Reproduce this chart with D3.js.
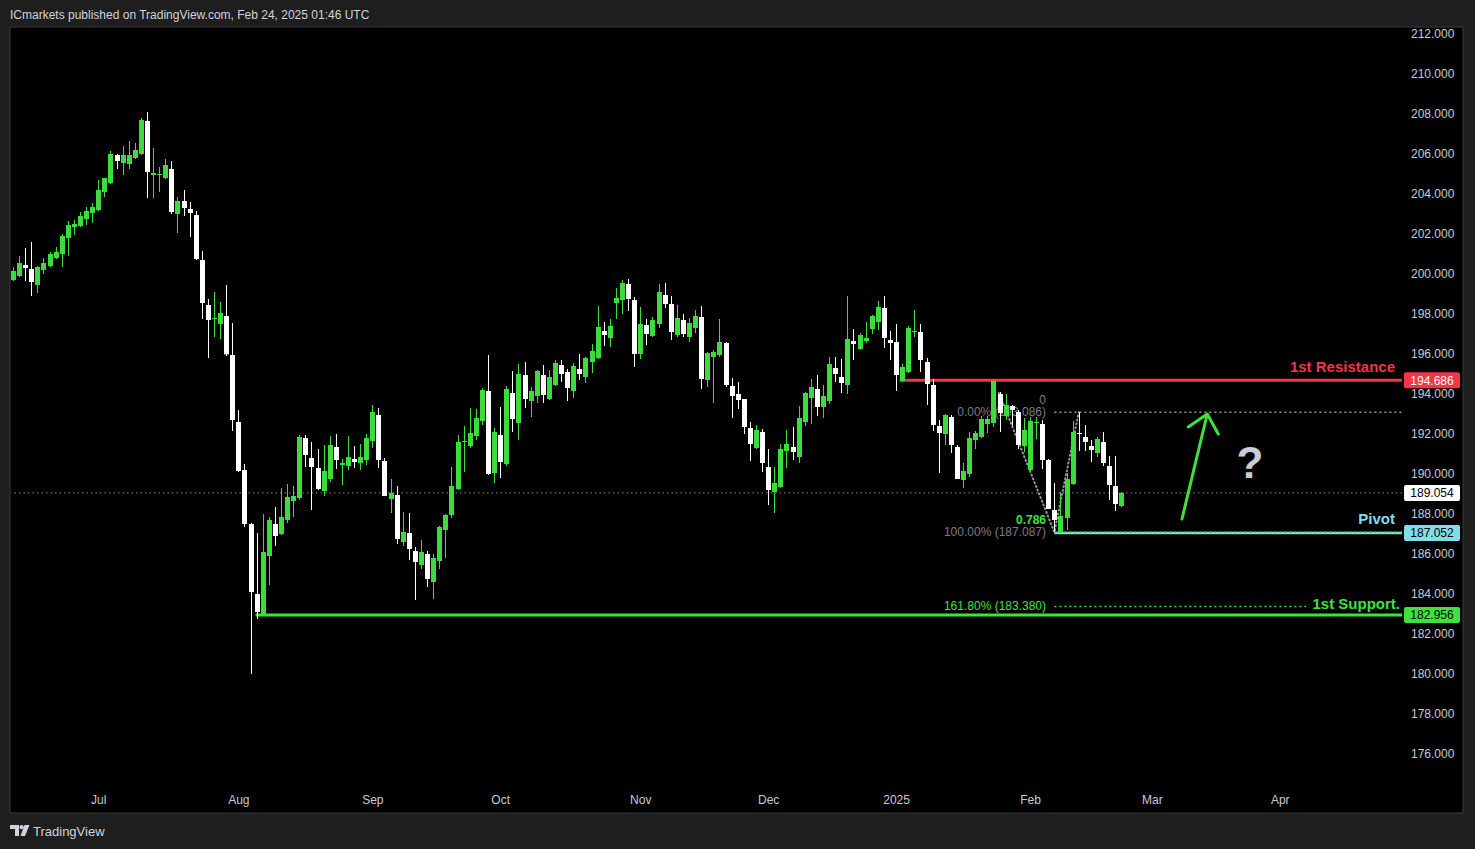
<!DOCTYPE html>
<html><head><meta charset="utf-8">
<script src="https://cdn.jsdelivr.net/npm/d3@7"></script>
<style>
html,body{margin:0;padding:0;background:#1e1e1e;}
svg{display:block;}
text{font-family:"Liberation Sans",Arial,sans-serif;}
</style></head><body>
<svg id="c" width="1475" height="849"></svg>
<script>
// ---- DATA (GBPJPY daily, Jun 11 2024 -> Feb 24 2025) ----
const opens = [199.7,199.9,200.45,200.25,199.45,200.2,200.4,200.8,201.0,201.8,202.35,202.4,202.75,203.05,203.2,204.1,204.55,205.95,205.55,205.5,205.8,206.0,207.65,204.95,204.95,204.8,205.25,203.0,203.65,203.25,
202.95,200.7,198.45,197.75,197.5,197.9,195.95,192.6,190.2,187.5,184.0,182.95,185.9,187.5,187.0,187.7,188.65,188.8,191.8,190.8,190.3,189.15,189.75,191.35,190.45,190.4,190.75,190.55,190.7,191.65,
192.95,190.65,188.75,188.95,186.6,187.05,186.15,185.45,186.0,184.6,185.65,187.2,187.95,189.25,191.6,191.4,191.9,192.65,194.15,190.05,191.95,190.5,194.05,192.55,194.95,193.65,193.9,194.95,193.75,194.45,
195.45,195.1,194.15,195.25,194.85,195.6,195.8,197.15,196.8,198.55,198.7,199.5,198.7,196.0,197.45,196.9,197.5,198.95,198.5,196.95,197.7,196.85,197.3,197.85,194.7,195.85,195.95,196.55,194.4,194.0,
193.75,192.3,191.3,192.1,190.35,189.1,189.35,191.15,191.35,190.85,192.6,193.8,194.25,193.35,193.65,195.3,194.85,194.45,196.65,196.25,196.65,197.25,197.6,198.3,196.7,196.6,194.65,195.1,197.1,197.1,
195.6,194.45,192.4,192.0,192.85,191.35,189.7,190.0,191.7,191.85,192.5,192.55,194.0,192.9,193.4,193.1,191.4,190.2,192.55,192.5,190.7,188.2,187.09,187.8,189.5,192.05,191.85,191.4,191.05,191.6,
190.4,189.4,188.4];
const highs = [200.35,200.9,201.3,201.6,200.4,200.8,201.1,201.35,202.0,202.65,202.7,203.1,203.35,203.55,204.7,204.8,206.15,206.0,206.4,206.65,206.55,207.8,208.1,206.3,205.35,205.75,205.65,203.85,204.2,203.6,
203.15,201.15,198.75,199.1,198.6,199.45,197.55,193.2,190.5,187.55,187.05,188.0,187.85,188.35,189.3,189.5,189.4,191.95,191.95,191.6,191.25,191.45,191.9,192.0,190.75,191.9,191.4,191.5,192.0,193.45,
193.3,190.8,189.75,189.4,188.1,188.05,186.35,186.7,186.15,186.0,187.4,188.0,190.35,191.95,192.4,193.3,193.25,194.3,195.95,192.3,193.35,194.4,195.15,195.5,195.6,194.35,195.2,195.45,195.2,195.7,
195.7,195.25,195.55,196.0,195.85,196.5,198.4,197.6,197.75,199.3,199.7,199.75,198.85,198.35,197.75,197.85,199.5,199.55,198.9,198.45,198.0,197.8,198.2,198.4,196.1,196.2,197.75,196.6,194.8,194.6,
193.75,192.6,192.45,192.25,191.25,190.35,191.5,192.2,192.35,193.4,194.1,194.75,194.95,194.45,195.85,195.85,195.75,198.9,197.25,197.05,197.6,197.95,198.65,198.9,197.15,197.5,195.5,197.4,198.2,197.5,
195.8,194.75,192.7,193.0,192.95,191.45,190.55,192.1,192.15,192.9,192.9,194.7,194.1,194.0,193.45,193.2,192.8,192.85,192.85,192.7,190.75,189.55,189.1,190.05,192.65,193.086,192.45,191.7,191.85,192.1,
190.9,190.9,189.1];
const lows = [199.65,199.85,199.65,198.9,199.05,200.0,200.35,200.75,200.35,200.9,201.95,202.35,202.45,202.55,203.15,203.85,204.5,205.25,204.95,205.25,205.75,205.95,203.8,203.8,204.1,204.75,203.0,202.05,202.9,201.85,
200.7,197.75,195.8,196.85,196.75,195.9,192.15,190.1,187.35,180.0,182.75,182.9,184.45,186.4,186.95,187.55,187.85,188.7,190.35,188.2,189.2,188.9,189.6,190.25,189.45,190.2,190.3,190.2,190.45,191.3,
190.3,188.9,188.05,186.5,186.4,185.7,183.7,185.25,184.35,183.75,185.25,185.8,187.8,189.2,190.1,191.3,191.7,192.45,189.95,189.55,189.8,190.4,192.1,191.7,193.3,192.85,193.55,193.55,193.7,194.4,
194.6,193.65,193.8,194.7,194.55,195.05,195.75,196.4,196.35,197.75,198.0,198.15,195.35,195.75,196.45,196.85,197.3,198.3,196.7,196.85,196.85,196.6,197.05,194.25,194.35,193.55,195.85,194.35,192.8,193.25,
192.0,190.65,191.25,190.1,188.45,188.05,189.3,190.3,190.7,190.55,192.4,192.5,192.9,192.8,193.5,194.6,194.05,194.0,195.7,196.2,196.55,197.0,197.2,196.3,195.7,194.15,194.6,195.05,196.85,195.1,
193.45,192.15,190.05,191.45,191.05,189.75,189.3,189.85,191.25,191.8,192.05,192.35,192.1,192.7,192.4,191.25,191.1,190.1,191.75,190.25,188.25,187.1,187.087,187.2,189.45,191.15,191.15,190.6,190.85,190.4,
188.7,188.15,188.35];
const closes = [200.15,200.55,200.3,199.6,200.35,200.55,201.0,201.1,201.9,202.45,202.5,202.9,203.15,203.35,204.2,204.8,206.0,205.65,205.95,205.95,206.2,207.7,205.1,205.05,205.0,205.45,203.1,203.65,203.3,203.05,
200.75,198.55,197.7,197.8,198.05,195.98,192.7,190.15,187.5,184.1,183.1,186.1,187.7,186.9,187.85,188.85,188.9,191.85,190.95,190.35,189.25,190.15,191.45,190.7,190.55,190.85,190.6,190.85,191.8,193.1,
190.7,188.9,189.05,186.75,187.1,186.25,185.6,186.1,184.75,185.8,187.35,187.95,189.4,191.6,191.65,192.05,192.8,194.2,190.0,192.1,190.6,194.25,192.75,195.0,193.75,194.15,195.15,193.95,194.85,195.55,
195.0,194.3,195.4,195.0,195.8,196.15,197.35,196.95,197.4,198.8,199.55,198.75,196.0,197.5,197.0,197.7,199.1,198.5,197.1,197.8,197.0,197.55,197.9,194.75,196.05,196.1,196.6,194.45,193.9,193.7,
192.35,191.5,192.2,190.55,189.2,189.55,191.25,191.5,191.1,192.8,194.05,194.35,193.35,193.9,195.5,195.0,194.55,196.75,196.5,196.95,196.8,197.9,198.35,196.8,196.55,194.95,195.35,197.3,197.15,195.7,
194.5,192.45,192.05,192.95,191.45,189.75,190.15,191.8,192.05,192.75,192.75,194.65,193.05,193.45,193.2,191.45,192.2,192.65,192.6,190.7,188.25,187.7,187.9,189.75,192.1,192.0,191.6,191.2,191.75,190.55,
189.45,188.5,189.054];

const monthLabels = ["Jul","Aug","Sep","Oct","Nov","Dec","2025","Feb","Mar","Apr"];
const priceTicks = d3.range(176, 212.001, 2);
const startDate = "2024-06-11";
const holidays = ["2024-12-25","2025-01-01"];

// levels
const resistance = 194.686, pivot = 187.052, support = 182.956, lastPrice = 189.054;
const fib0 = 193.086, fib100 = 187.087, fib1618 = 183.380;
// trend points (bar index, price)
const trendPts = [[161.9,194.05],[171,187.087],[175,193.086]];
const arrowPts = [[191.95,187.75],[196.1,193.0]];

// ---- build trading-day calendar ----
const dates = [];
{
  let d = new Date(startDate+"T00:00:00Z");
  while (dates.length < 240) {
    const wd = d.getUTCDay();
    const iso = d.toISOString().slice(0,10);
    if (wd !== 0 && wd !== 6 && !holidays.includes(iso)) dates.push(new Date(d));
    d.setUTCDate(d.getUTCDate()+1);
  }
}
const monthStarts = [];
for (let i=1;i<dates.length;i++){
  if (dates[i].getUTCMonth() !== dates[i-1].getUTCMonth()) monthStarts.push(i);
}
const tickIdx = monthStarts.slice(0, monthLabels.length);

const svg = d3.select("#c");
const W=1475,H=849;
const paneL=10, paneT=27, paneR=1463, paneB=813, plotR=1402, plotB=787;

svg.append("rect").attr("x",0).attr("y",0).attr("width",W).attr("height",H).attr("fill","#1e1e1e");
svg.append("rect").attr("x",paneL).attr("y",paneT).attr("width",paneR-paneL).attr("height",paneB-paneT)
  .attr("fill","#000").attr("stroke","#3a3a3a").attr("stroke-width",1);

const x = d3.scaleLinear().domain([0,1]).range([13, 13+6.09]);
const y = d3.scaleLinear().domain([176,212]).range([754,34]);

svg.append("defs").append("clipPath").attr("id","plot").append("rect")
  .attr("x",paneL+1).attr("y",paneT+1).attr("width",plotR-paneL-1).attr("height",plotB-paneT-1);
const plot = svg.append("g").attr("clip-path","url(#plot)");

// header/footer
svg.append("text").attr("x",10).attr("y",19).attr("fill","#d1d4dc").attr("font-size",12)
  .text("ICmarkets published on TradingView.com, Feb 24, 2025 01:46 UTC");
const logo = svg.append("g").attr("fill","#d1d4dc");
logo.append("path").attr("d","M10,825 H19 V836 H15 V829 H10 Z");
logo.append("circle").attr("cx",21.6).attr("cy",827.2).attr("r",2.1);
logo.append("path").attr("d","M24.5,825 H29.5 L25,836 H20.5 Z");
svg.append("text").attr("x",33).attr("y",836).attr("fill","#d1d4dc").attr("font-size",13).text("TradingView");

// last price dotted line
plot.append("line").attr("x1",paneL).attr("x2",plotR).attr("y1",y(lastPrice)).attr("y2",y(lastPrice))
  .attr("stroke","#8a8d96").attr("stroke-width",1).attr("stroke-dasharray","1.5,3");

// support / resistance / pivot lines
plot.append("line").attr("x1",x(40)-1).attr("x2",plotR).attr("y1",y(support)).attr("y2",y(support))
  .attr("stroke","#3ee23e").attr("stroke-width",3);
plot.append("line").attr("x1",x(145.6)).attr("x2",plotR).attr("y1",y(resistance)).attr("y2",y(resistance))
  .attr("stroke","#f23645").attr("stroke-width",3);
plot.append("line").attr("x1",x(171)).attr("x2",plotR).attr("y1",y(pivot)).attr("y2",y(pivot))
  .attr("stroke","#80deea").attr("stroke-width",2.5);

// fib lines
plot.append("line").attr("x1",x(171)).attr("x2",plotR).attr("y1",y(fib0)).attr("y2",y(fib0))
  .attr("stroke","#9598a1").attr("stroke-width",1.5).attr("stroke-dasharray","2,3");
plot.append("line").attr("x1",x(171)).attr("x2",plotR).attr("y1",y(fib100)).attr("y2",y(fib100))
  .attr("stroke","#3ee23e").attr("stroke-width",1.5).attr("stroke-dasharray","2,3");
plot.append("line").attr("x1",x(171)).attr("x2",1306).attr("y1",y(fib1618)).attr("y2",y(fib1618))
  .attr("stroke","#3ee23e").attr("stroke-width",1.5).attr("stroke-dasharray","2,3");

// fib labels (behind candles)
const fibTxt = plot.append("g").attr("font-size",12).attr("text-anchor","end");
fibTxt.append("text").attr("x",1046).attr("y",y(fib0)+4).attr("fill","#787b86").text("0.00% (193.086)");
fibTxt.append("text").attr("x",1046).attr("y",y(fib0)-8).attr("fill","#787b86").text("0");
fibTxt.append("text").attr("x",1046).attr("y",y(fib100)+4).attr("fill","#787b86").text("100.00% (187.087)");
fibTxt.append("text").attr("x",1046).attr("y",y(fib100)-8).attr("fill","#3ee23e").attr("font-weight","bold").text("0.786");
fibTxt.append("text").attr("x",1046).attr("y",y(fib1618)+4).attr("fill","#3ee23e").text("161.80% (183.380)");

// trend dotted path
plot.append("path").attr("d", d3.line().x(d=>x(d[0])).y(d=>y(d[1]))(trendPts))
  .attr("fill","none").attr("stroke","#9598a1").attr("stroke-width",2).attr("stroke-dasharray","1,3").attr("stroke-linecap","round");

// candles
const up = "#3ddc3d", down = "#ffffff";
const idx = d3.range(closes.length);
plot.append("g").selectAll("line").data(idx).join("line")
  .attr("x1",i=>Math.round(x(i))+0.5).attr("x2",i=>Math.round(x(i))+0.5)
  .attr("y1",i=>y(highs[i])).attr("y2",i=>y(lows[i]))
  .attr("stroke",i=>closes[i]>=opens[i]?up:down).attr("stroke-width",1);
plot.append("g").selectAll("rect").data(idx).join("rect")
  .attr("x",i=>Math.round(x(i))-2).attr("width",5)
  .attr("y",i=>y(Math.max(opens[i],closes[i])))
  .attr("height",i=>Math.max(1, Math.abs(y(opens[i])-y(closes[i]))))
  .attr("fill",i=>closes[i]>=opens[i]?up:down);

// level text labels
const lbl = plot.append("g").attr("font-size",15).attr("font-weight","bold").attr("text-anchor","end");
lbl.append("text").attr("x",1395).attr("y",y(resistance)-8).attr("fill","#f23645").text("1st Resistance");
lbl.append("text").attr("x",1395).attr("y",y(pivot)-9).attr("fill","#80deea").text("Pivot");
lbl.append("text").attr("x",1400).attr("y",y(fib1618)+3).attr("fill","#3ee23e").text("1st Support.");

// arrow
const ax0=x(arrowPts[0][0]), ay0=y(arrowPts[0][1]), ax1=x(arrowPts[1][0]), ay1=y(arrowPts[1][1]);
plot.append("path").attr("d",`M${ax0},${ay0} L${ax1},${ay1} M${ax1-19},${ay1+13} L${ax1},${ay1} L${ax1+11},${ay1+20}`)
  .attr("fill","none").attr("stroke","#3ee23e").attr("stroke-width",3).attr("stroke-linecap","round").attr("stroke-linejoin","round");
plot.append("text").attr("x",1250).attr("y",478).attr("text-anchor","middle").attr("font-size",44)
  .attr("font-weight","bold").attr("fill","#c9ccd6").text("?");

// axes
const yAxis = d3.axisRight(y).tickValues(priceTicks).tickFormat(d=>d.toFixed(3)).tickSize(0).tickPadding(0);
const yg = svg.append("g").attr("transform","translate(1411,0)").call(yAxis);
yg.select(".domain").remove();
yg.selectAll("text").attr("fill","#c8cbd2").attr("font-size",12).attr("font-family","Liberation Sans, Arial, sans-serif");

const xAxis = d3.axisBottom(x).tickValues(tickIdx).tickFormat((d,i)=>monthLabels[i]).tickSize(0).tickPadding(3);
const xg = svg.append("g").attr("transform","translate(0,792)").call(xAxis);
xg.select(".domain").remove();
xg.selectAll("text").attr("fill","#c8cbd2").attr("font-size",12).attr("font-family","Liberation Sans, Arial, sans-serif");

// price tags
function tag(v, bg, fg){
  const g = svg.append("g");
  g.append("rect").attr("x",1404).attr("y",y(v)-8).attr("width",56).attr("height",16).attr("rx",2).attr("fill",bg);
  g.append("text").attr("x",1432).attr("y",y(v)+4.5).attr("text-anchor","middle").attr("font-size",12).attr("fill",fg).text(v.toFixed(3));
}
tag(resistance,"#f23645","#ffffff");
tag(lastPrice,"#ffffff","#000000");
tag(pivot,"#80deea","#000000");
tag(support,"#3ee23e","#000000");
</script>
</body></html>
